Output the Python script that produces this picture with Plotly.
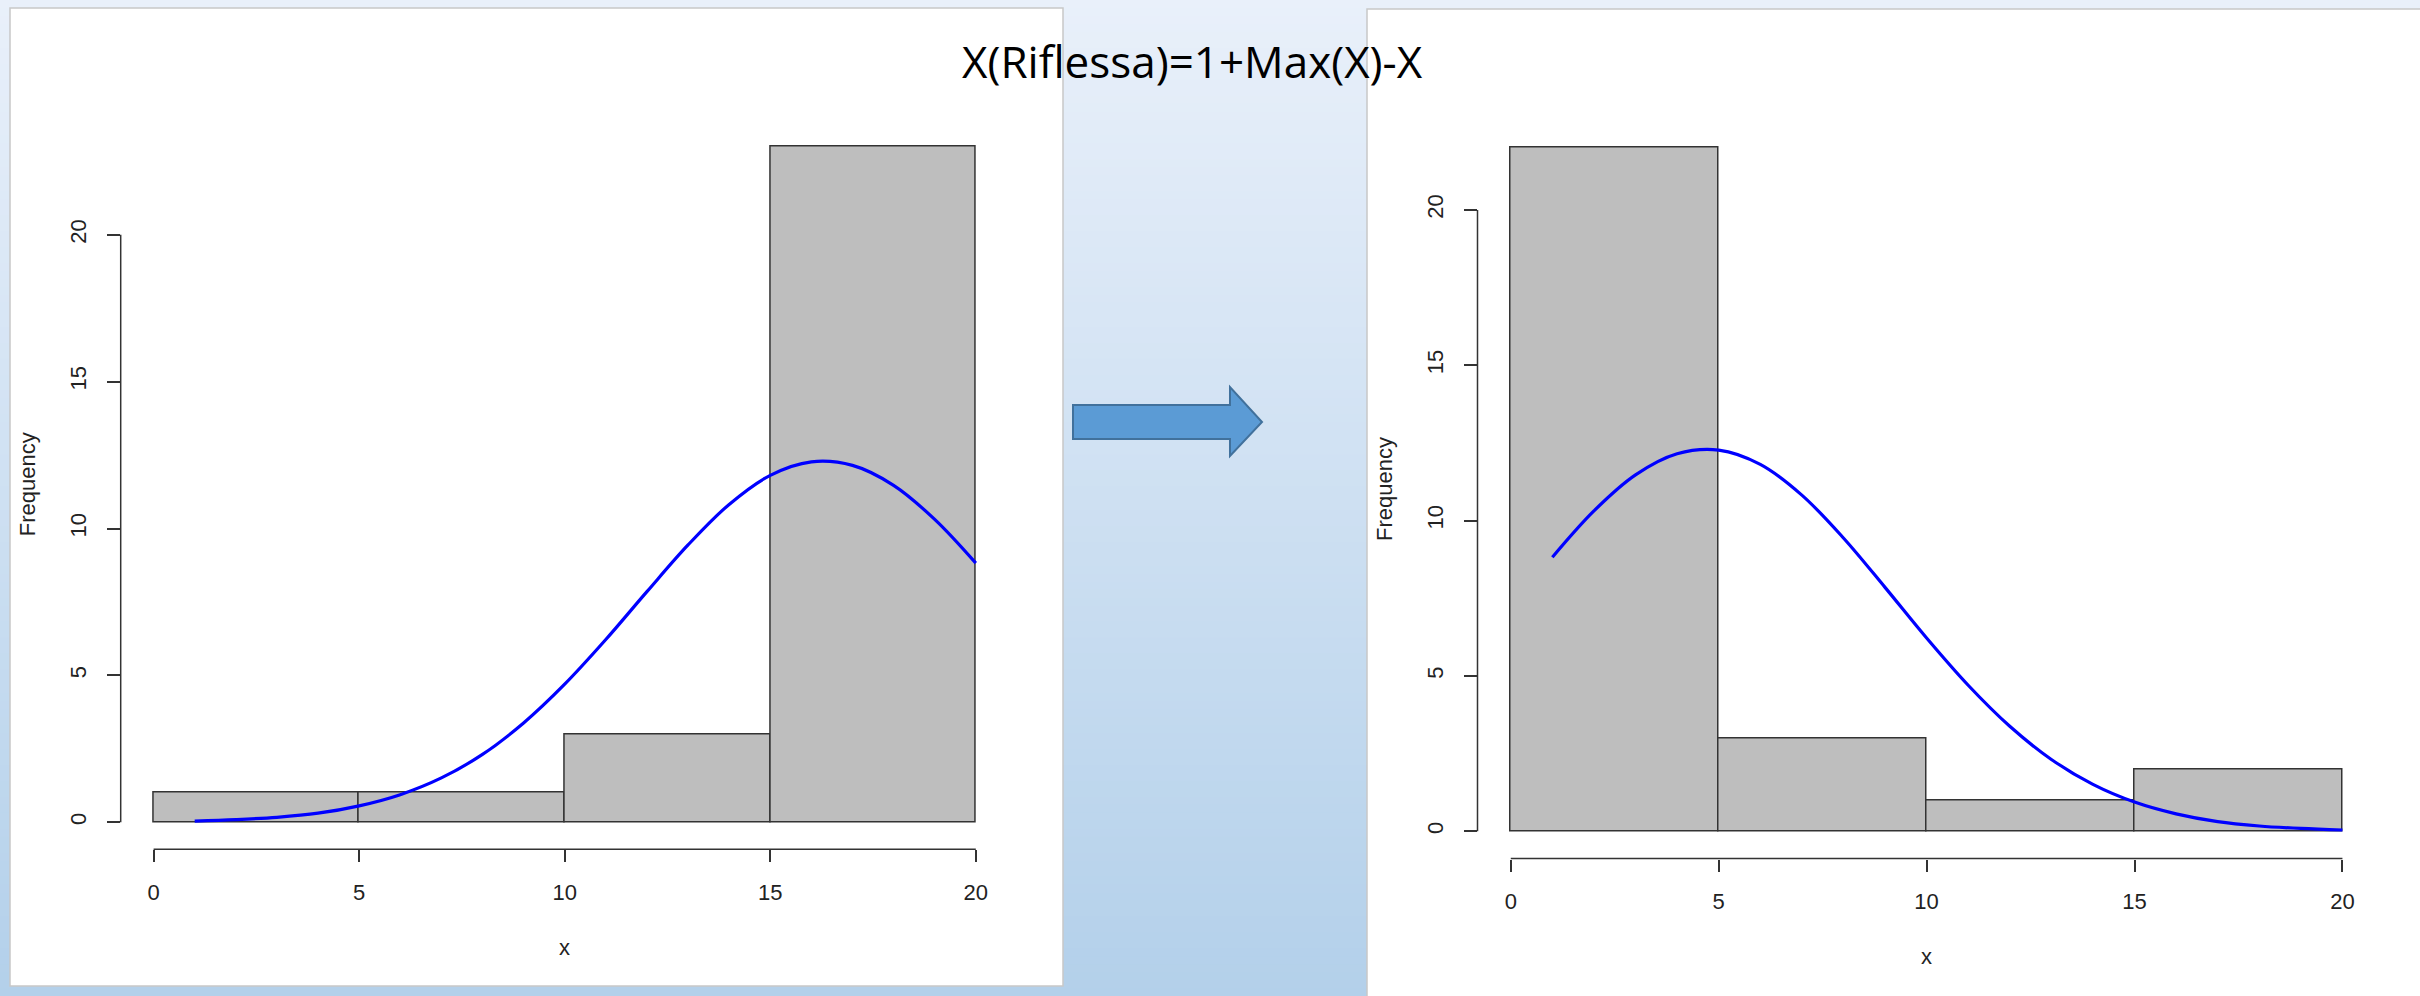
import plotly.graph_objects as go

W, H = 2420, 996

# Histogram bins (width 5) and their frequencies
bin_edges = [0, 5, 10, 15, 20]
counts_orig = [1, 1, 3, 23]      # X
counts_refl = [22, 3, 1, 2]      # X(Riflessa)

# Fitted normal curve over X, read at integer x
curve_x = list(range(1, 21))
curve_y = [0.04, 0.09, 0.17, 0.31, 0.56, 0.94, 1.51, 2.31, 3.38, 4.70,
           6.22, 7.85, 9.44, 10.82, 11.81, 12.27, 12.15, 11.47, 10.31, 8.82]

x_ticks = [0, 5, 10, 15, 20]
y_ticks = [0, 5, 10, 15, 20]

title_text = "X(Riflessa)=1+Max(X)-X"

# reflection of the curve: 1 + max(X) - X
x_max = max(curve_x)
curve_x_refl = [1 + x_max - v for v in curve_x]

bin_centers = [(a + b) / 2 for a, b in zip(bin_edges[:-1], bin_edges[1:])]
bin_widths = [b - a for a, b in zip(bin_edges[:-1], bin_edges[1:])]


def px_x(p):
    return p / W


def px_y(p):
    return 1 - p / H


def padded(lo, hi, frac=0.04):
    span = hi - lo
    return [lo - frac * span, hi + frac * span]


# pixel boxes of the two plot regions (left, top, right, bottom)
panels = {
    "left": dict(box=(120.7, 119.6, 1008.7, 849.3), counts=counts_orig,
                 cx=curve_x, xa="x", ya="y"),
    "right": dict(box=(1477.5, 120.4, 2375.7, 858.6), counts=counts_refl,
                  cx=curve_x_refl, xa="x2", ya="y2"),
}

BAR_FILL = "#bebebe"
EDGE = "#333333"
AXIS_COL = "#333333"
TICK_FONT = dict(family="Liberation Sans, Arial, sans-serif", size=22, color="#222222")
LABEL_FONT = dict(family="Liberation Sans, Arial, sans-serif", size=22, color="#222222")

fig = go.Figure()
shapes = []
annotations = []

# vertical background gradient
top_rgb = (233, 240, 250)
bot_rgb = (179, 208, 234)
N = 125
for i in range(N):
    t = (i + 0.5) / N  # 0 at bottom, 1 at top
    c = tuple(round(b + (tp - b) * t) for b, tp in zip(bot_rgb, top_rgb))
    shapes.append(dict(type="rect", xref="paper", yref="paper",
                       x0=0, x1=1, y0=i / N, y1=min(1, (i + 1.6) / N),
                       fillcolor="rgb(%d,%d,%d)" % c, line=dict(width=0),
                       layer="below"))

# white chart cards
for (l, t, r, b) in [(10, 8, 1063, 986), (1367, 9, 2440, 1010)]:
    shapes.append(dict(type="rect", xref="paper", yref="paper",
                       x0=px_x(l), x1=px_x(r), y0=px_y(b), y1=px_y(t),
                       fillcolor="white", line=dict(color="#c8c8c8", width=1.5),
                       layer="below"))

layout_axes = {}
for key, p in panels.items():
    l, t, r, b = p["box"]
    xa, ya = p["xa"], p["ya"]
    xname = "xaxis" if xa == "x" else "xaxis" + xa[1:]
    yname = "yaxis" if ya == "y" else "yaxis" + ya[1:]

    fig.add_trace(go.Bar(
        x=bin_centers, y=p["counts"], width=bin_widths,
        marker=dict(color=BAR_FILL, line=dict(color=EDGE, width=1.5)),
        xaxis=xa, yaxis=ya, showlegend=False, hoverinfo="x+y"))
    fig.add_trace(go.Scatter(
        x=p["cx"], y=curve_y, mode="lines",
        line=dict(color="#0000ff", width=3.2, shape="spline"),
        xaxis=xa, yaxis=ya, showlegend=False))

    xr = padded(bin_edges[0], bin_edges[-1])
    yr = padded(0, max(p["counts"]))

    layout_axes[xname] = dict(
        domain=[px_x(l), px_x(r)], range=xr, anchor=ya,
        tickvals=x_ticks, ticks="outside", ticklen=12, tickwidth=1.5,
        tickcolor=AXIS_COL, showline=False, showgrid=False, zeroline=False,
        tickfont=TICK_FONT, ticklabelstandoff=11, fixedrange=True)
    layout_axes[yname] = dict(
        domain=[px_y(b), px_y(t)], range=yr, anchor=xa,
        tickvals=y_ticks, ticks="outside", ticklen=13, tickwidth=1.5,
        tickcolor=AXIS_COL, showline=False, showgrid=False, zeroline=False,
        tickangle=-90, tickfont=TICK_FONT, ticklabelstandoff=12, fixedrange=True)

    # R-style axis lines spanning only the tick range
    shapes.append(dict(type="line", xref=xa, yref="paper",
                       x0=x_ticks[0], x1=x_ticks[-1], y0=px_y(b), y1=px_y(b),
                       line=dict(color=AXIS_COL, width=1.5)))
    shapes.append(dict(type="line", xref="paper", yref=ya,
                       x0=px_x(l), x1=px_x(l), y0=y_ticks[0], y1=y_ticks[-1],
                       line=dict(color=AXIS_COL, width=1.5)))

    # axis titles
    annotations.append(dict(text="x", xref="paper", yref="paper",
                            x=(px_x(l) + px_x(r)) / 2, y=px_y(b + 98),
                            showarrow=False, font=LABEL_FONT,
                            xanchor="center", yanchor="middle"))
    annotations.append(dict(text="Frequency", xref="paper", yref="paper",
                            x=px_x(l - 93), y=(px_y(b) + px_y(t)) / 2,
                            textangle=-90, showarrow=False, font=LABEL_FONT,
                            xanchor="center", yanchor="middle"))

# block arrow between the two charts
ax = dict(left=1073, base=1230, tip=1262)
ay = dict(shaft_top=405, shaft_bot=439, head_top=387, head_bot=456, mid=422)
pts = [(ax["left"], ay["shaft_top"]), (ax["base"], ay["shaft_top"]),
       (ax["base"], ay["head_top"]), (ax["tip"], ay["mid"]),
       (ax["base"], ay["head_bot"]), (ax["base"], ay["shaft_bot"]),
       (ax["left"], ay["shaft_bot"])]
path = "M " + " L ".join("%.5f,%.5f" % (px_x(a), px_y(b)) for a, b in pts) + " Z"
shapes.append(dict(type="path", xref="paper", yref="paper", path=path,
                   fillcolor="#5b9bd5", line=dict(color="#41719c", width=2)))

annotations.append(dict(text=title_text, xref="paper", yref="paper",
                        x=px_x(1192), y=px_y(61), showarrow=False,
                        xanchor="center", yanchor="middle",
                        font=dict(family="Open Sans, Noto Sans, sans-serif",
                                  size=44, color="#000000")))

fig.update_layout(
    width=W, height=H,
    margin=dict(l=0, r=0, t=0, b=0),
    paper_bgcolor="rgb(233,240,250)",
    plot_bgcolor="rgba(0,0,0,0)",
    bargap=0,
    shapes=shapes,
    annotations=annotations,
    showlegend=False,
    **layout_axes,
)

fig.write_html("out.html")
